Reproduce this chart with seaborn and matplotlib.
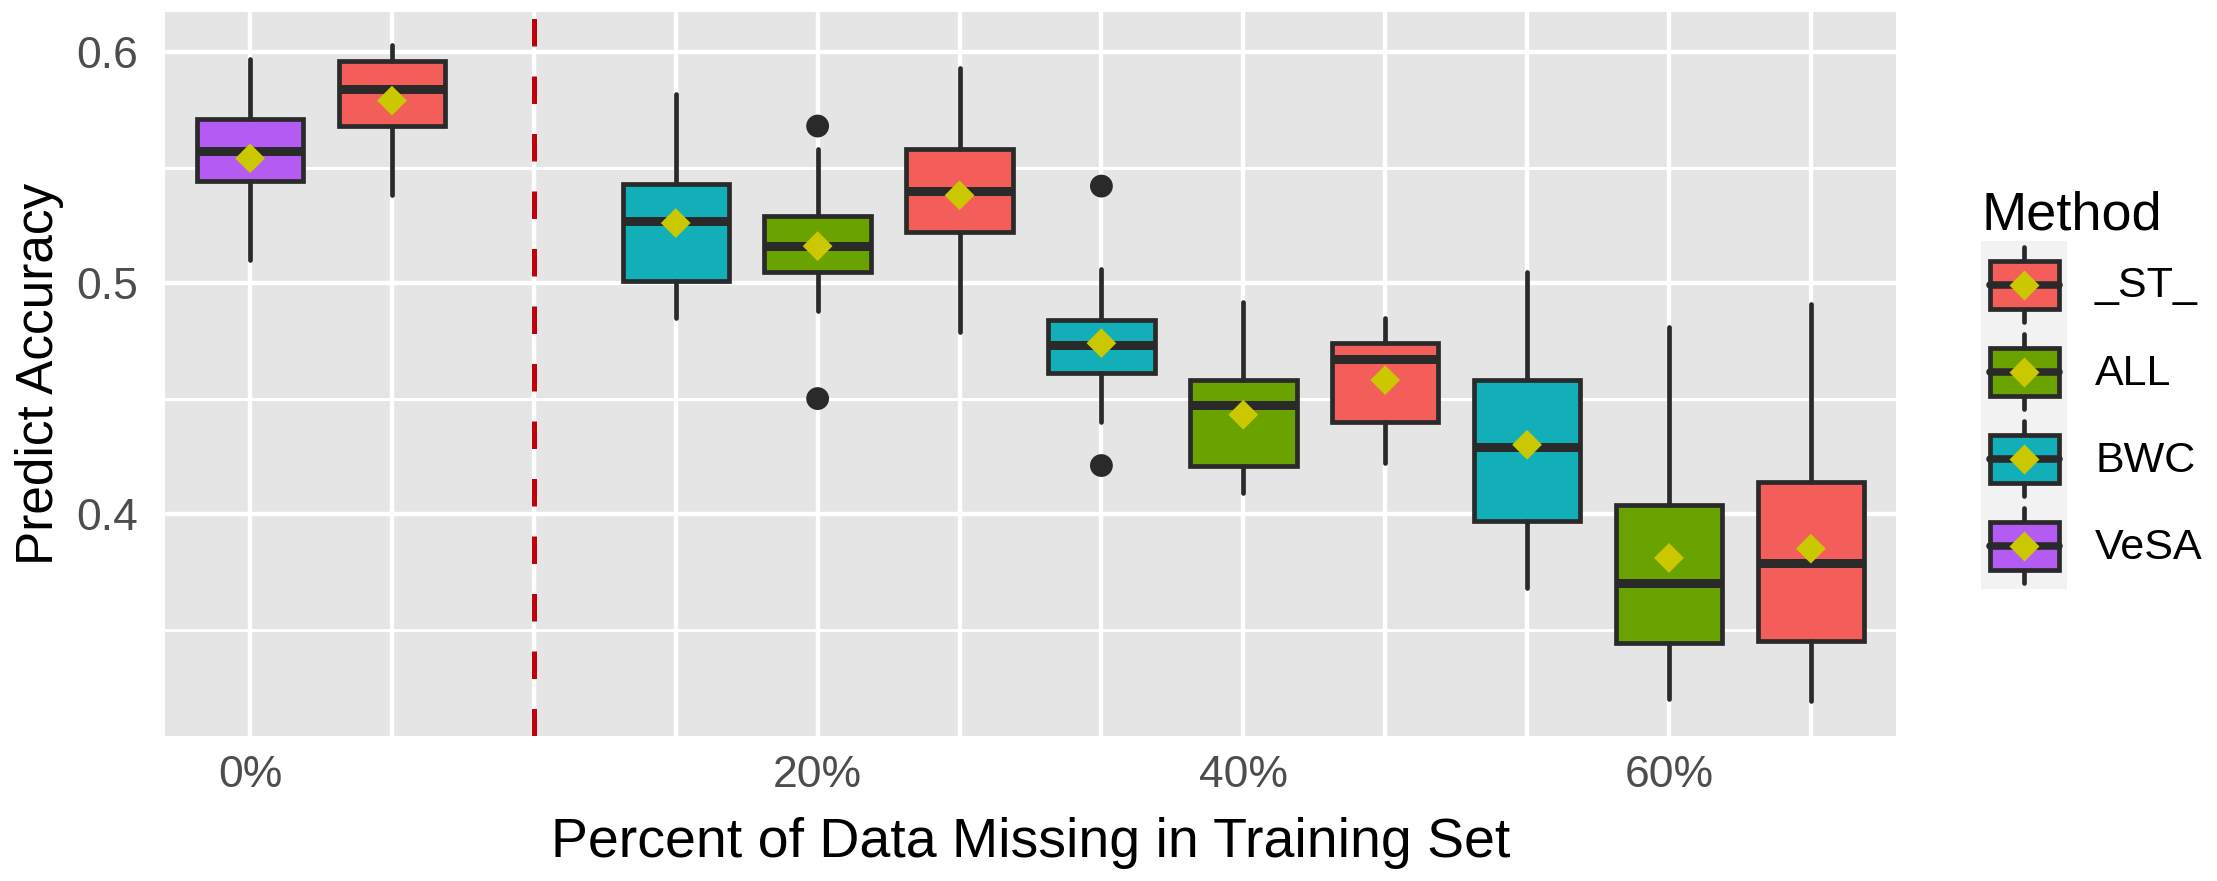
import matplotlib
matplotlib.use("Agg")
import matplotlib.pyplot as plt
from matplotlib.legend_handler import HandlerBase
from matplotlib.lines import Line2D
from matplotlib.patches import Patch, Rectangle
from matplotlib.ticker import FixedLocator
import seaborn as sns

# Data
slot_labels = ["0%", "", "", "", "20%", "", "", "40%", "", "", "60%", ""]
divider_slot = 2

box_slots = [0, 1, 3, 4, 5, 6, 7, 8, 9, 10, 11]
box_methods = ["VeSA", "_ST_", "BWC", "ALL", "_ST_", "BWC", "ALL", "_ST_", "BWC", "ALL", "_ST_"]
whisker_low = [0.510, 0.538, 0.485, 0.488, 0.479, 0.440, 0.409, 0.422, 0.368, 0.320, 0.319]
q1 = [0.544, 0.568, 0.501, 0.505, 0.522, 0.461, 0.421, 0.440, 0.397, 0.344, 0.345]
medians = [0.557, 0.584, 0.527, 0.516, 0.540, 0.473, 0.447, 0.467, 0.429, 0.370, 0.379]
q3 = [0.571, 0.596, 0.543, 0.529, 0.558, 0.484, 0.458, 0.474, 0.458, 0.404, 0.414]
whisker_high = [0.597, 0.603, 0.582, 0.558, 0.593, 0.506, 0.492, 0.485, 0.505, 0.481, 0.491]
means = [0.554, 0.579, 0.526, 0.516, 0.538, 0.474, 0.443, 0.458, 0.430, 0.381, 0.385]
outlier_slots = [4, 4, 6, 6]
outlier_values = [0.568, 0.450, 0.542, 0.421]

method_order = ["_ST_", "ALL", "BWC", "VeSA"]
method_colors = ["#F35E5A", "#6AA300", "#12AFB9", "#B35BF2"]

EDGE = "#2A2A2A"
MEAN_COLOR = "#CCC800"
BOX_LW = 3.4


class BoxKeyHandler(HandlerBase):
    # legend key drawn as a small boxplot with the mean diamond, ggplot style
    def create_artists(self, legend, orig_handle, xdescent, ydescent,
                       width, height, fontsize, trans):
        sp = legend.labelspacing * fontsize
        x0, y0 = -xdescent, -ydescent - sp / 2
        full = height + sp
        cx, cy = x0 + width / 2, y0 + full / 2
        bw, bh = width * 0.8, full * 0.55
        bg = Rectangle((x0, y0), width, full, facecolor="#F2F2F2",
                       edgecolor="none", transform=trans)
        whisk = Line2D([cx, cx], [cy - full * 0.43, cy + full * 0.43],
                       color=EDGE, lw=BOX_LW, transform=trans)
        box = Rectangle((cx - bw / 2, cy - bh / 2), bw, bh,
                        facecolor=orig_handle.get_facecolor(), edgecolor=EDGE,
                        lw=BOX_LW, transform=trans)
        med = Line2D([cx - bw / 2, cx + bw / 2], [cy, cy], color=EDGE,
                     lw=BOX_LW * 1.6, transform=trans)
        dia = Line2D([cx], [cy], marker="D", ms=15, color=MEAN_COLOR,
                     markeredgecolor="none", transform=trans)
        return [bg, whisk, box, med, dia]


sns.set_theme(style="darkgrid", rc={"axes.facecolor": "#E5E5E5",
                                    "grid.color": "white"})
plt.rcParams["font.family"] = ["Liberation Sans", "DejaVu Sans"]

fig = plt.figure(figsize=(22.17, 8.81), dpi=100)
ax = fig.add_axes([0.0744, 0.1646, 0.7808, 0.8221])
ax.set_axisbelow(True)

color_of = dict(zip(method_order, method_colors))
stats = []
for i in range(len(box_slots)):
    stats.append(dict(med=medians[i], q1=q1[i], q3=q3[i],
                      whislo=whisker_low[i], whishi=whisker_high[i], fliers=[]))

ax.axvline(divider_slot, color="#C0000B", lw=3.6, ls=(0, (5.5, 6)), zorder=1.5)

bp = ax.bxp(stats, positions=box_slots, widths=0.75, patch_artist=True,
            showcaps=False, showfliers=False,
            boxprops=dict(edgecolor=EDGE, linewidth=BOX_LW),
            whiskerprops=dict(color=EDGE, linewidth=BOX_LW),
            medianprops=dict(color=EDGE, linewidth=BOX_LW * 1.9,
                             solid_capstyle="butt"))
for patch, m in zip(bp["boxes"], box_methods):
    patch.set_facecolor(color_of[m])

# outliers and means
sns.scatterplot(x=outlier_slots, y=outlier_values, s=270, color=EDGE,
                edgecolor="none", ax=ax, zorder=4, legend=False)
sns.scatterplot(x=box_slots, y=means, marker="D", s=230, color=MEAN_COLOR,
                edgecolor="none", ax=ax, zorder=5, legend=False)

ax.set_xlim(-0.6, 11.6)
ax.set_ylim(0.3039, 0.6175)
ax.set_xticks(range(len(slot_labels)))
ax.set_xticklabels(slot_labels)
ax.set_yticks([0.4, 0.5, 0.6])
ax.set_yticklabels(["0.4", "0.5", "0.6"])
ax.yaxis.set_minor_locator(FixedLocator([0.35, 0.45, 0.55]))
ax.xaxis.set_minor_locator(FixedLocator([]))

ax.grid(which="major", color="white", lw=3.2)
ax.grid(which="minor", axis="y", color="white", lw=2.2)
for s in ax.spines.values():
    s.set_visible(False)

ax.tick_params(which="major", length=10, width=3.2, color="#333333",
               labelsize=32, labelcolor="#4D4D4D")
ax.tick_params(axis="x", pad=3.6)
ax.tick_params(axis="y", pad=9.4)
ax.tick_params(which="minor", length=0)

ax.set_xlabel("Percent of Data Missing in Training Set", fontsize=40,
              color="black", labelpad=15)
ax.set_ylabel("Predict Accuracy", fontsize=37, color="black", labelpad=9)

handles = [Patch(facecolor=c) for c in method_colors]
leg = ax.legend(handles, method_order, title="Method",
                handler_map={Patch: BoxKeyHandler()},
                loc="upper left", bbox_to_anchor=(1981 / 2217, 1 - 191 / 881),
                bbox_transform=fig.transFigure, frameon=False,
                fontsize=31, title_fontsize=39, handlelength=2.0,
                handleheight=2.736, labelspacing=0.0, handletextpad=0.65,
                borderpad=0, borderaxespad=0, alignment="left")
for t in leg.get_texts():
    t.set_color("black")
leg.get_title().set_color("black")

fig.savefig("out.png", dpi=100, facecolor="white")
